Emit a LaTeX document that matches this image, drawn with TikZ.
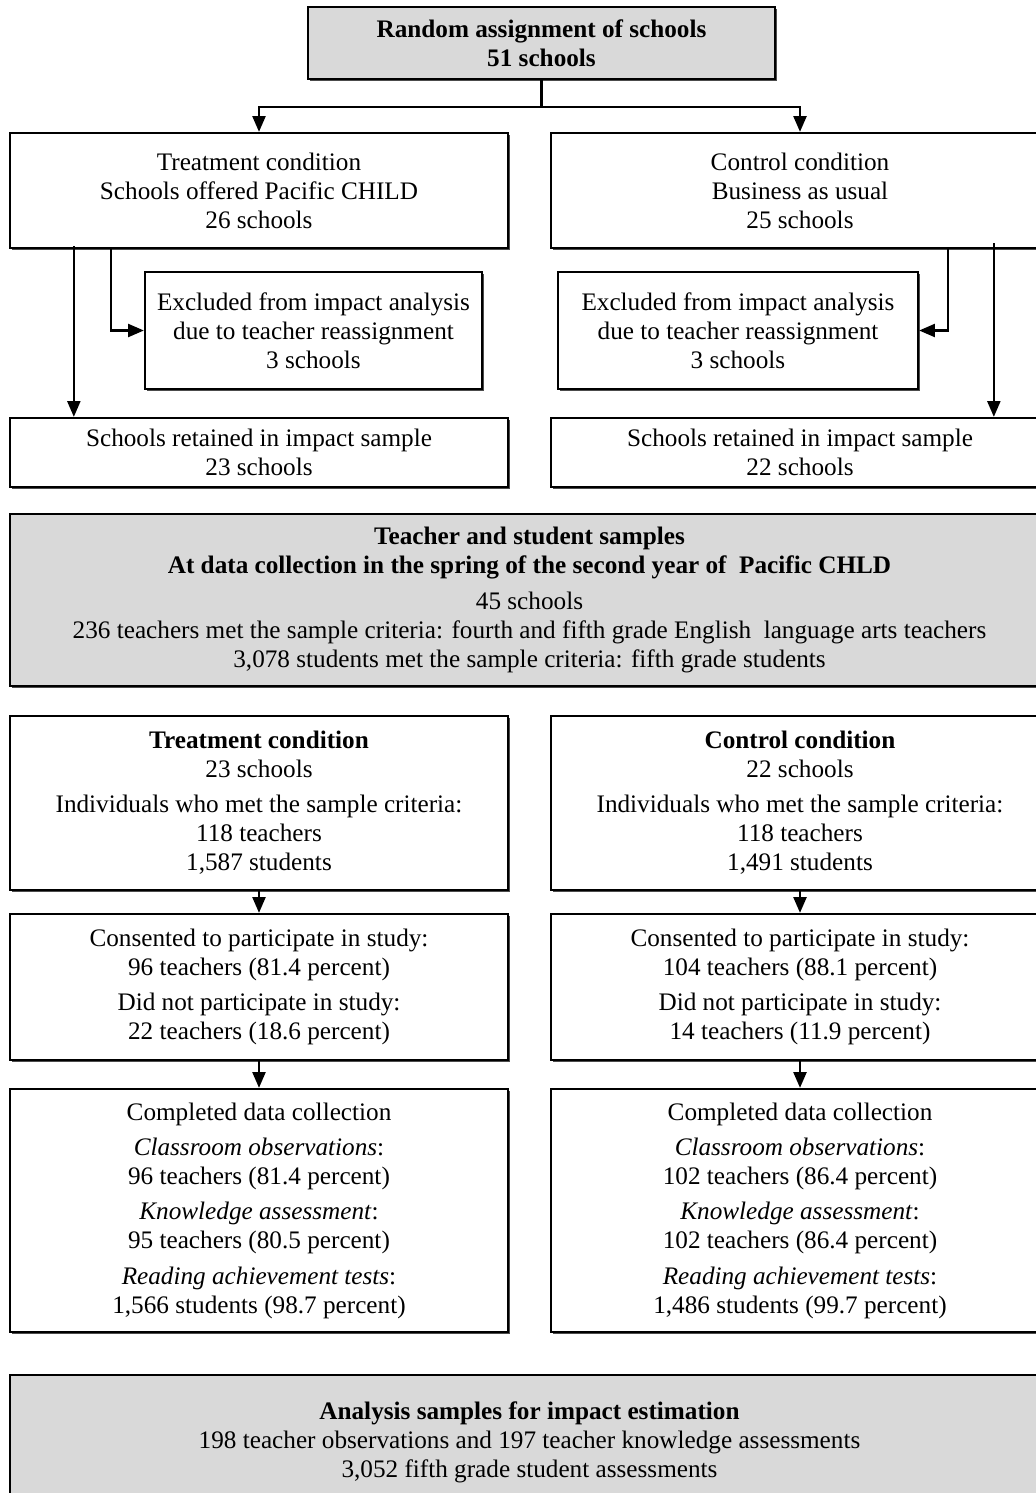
\documentclass[tikz,border=0pt]{standalone}
\usepackage{fontspec}
\setmainfont{Liberation Serif}
\usepackage{tikz}
\usetikzlibrary{arrows.meta, shadows, positioning}
\definecolor{boxgray}{HTML}{D9D9D9}
\newlength\unitpx
\setlength\unitpx{0.476pt}

\begin{document}
\begin{tikzpicture}[align=center, x=\unitpx, y=-\unitpx, font=\fontsize{12}{13.8}\selectfont]

\tikzstyle{plainbox} = [rectangle, inner sep=0pt, text centered, draw=black, line width=1.1pt, fill=white, drop shadow={shadow xshift=1.1pt, shadow yshift=-1.1pt, opacity=1, fill=black!70}]
\tikzstyle{graybox} = [plainbox, fill=boxgray]
\tikzstyle{halfbox} = [plainbox, minimum width=498\unitpx]
\tikzstyle{fullbox} = [graybox, minimum width=1039\unitpx]
\tikzstyle{arrow} = [line width=1pt, -{Triangle[length=7.5pt, width=6.2pt]}]

\useasboundingbox (0,0) rectangle (1036,1493);
\clip (0,0) rectangle (1036,1493);

% random assignment
\node (assign) [graybox, minimum width=467\unitpx, minimum height=72\unitpx] at (541.5,43) {\textbf{Random assignment of schools}\\ \textbf{51 schools}};

% first split
\node (treat) [halfbox, minimum height=115\unitpx] at (259,190.5) {Treatment condition\\ Schools offered Pacific CHILD\\ 26 schools};
\node (ctrl) [halfbox, minimum height=115\unitpx] at (800,190.5) {Control condition\\ Business as usual\\ 25 schools};
\node (exclT) [plainbox, minimum width=337\unitpx, minimum height=117\unitpx] at (313.5,330.5) {Excluded from impact analysis\\ due to teacher reassignment\\ 3 schools};
\node (exclC) [plainbox, minimum width=360\unitpx, minimum height=117\unitpx] at (738,330.5) {Excluded from impact analysis\\ due to teacher reassignment\\ 3 schools};
\node (retT) [halfbox, minimum height=69\unitpx] at (259,452.5) {Schools retained in impact sample\\ 23 schools};
\node (retC) [halfbox, minimum height=69\unitpx] at (800,452.5) {Schools retained in impact sample\\ 22 schools};

% samples
\node (samples) [fullbox, minimum height=172\unitpx] at (529.5,600) {\textbf{Teacher and student samples}\\ \textbf{At data collection in the spring of the second year of\ \ Pacific CHLD}\\[3pt] 45 schools\\ 236 teachers met the sample criteria: fourth and fifth grade English\ \ language arts teachers\\ 3,078 students met the sample criteria: fifth grade students};

% treatment column
\node (sampT) [halfbox, minimum height=174\unitpx] at (259,803) {\textbf{Treatment condition}\\ 23 schools\\[3pt] Individuals who met the sample criteria:\\ 118 teachers\\ 1,587 students};
\node (consT) [halfbox, minimum height=146\unitpx] at (259,987) {Consented to participate in study:\\ 96 teachers (81.4 percent)\\[3pt] Did not participate in study:\\ 22 teachers (18.6 percent)};
\node (compT) [halfbox, minimum height=243\unitpx] at (259,1210.5) {Completed data collection\\[3pt] \textit{Classroom observations}:\\ 96 teachers (81.4 percent)\\[3pt] \textit{Knowledge assessment}:\\ 95 teachers (80.5 percent)\\[3pt] \textit{Reading achievement tests}:\\ 1,566 students (98.7 percent)};

% control column
\node (sampC) [halfbox, minimum height=174\unitpx] at (800,803) {\textbf{Control condition}\\ 22 schools\\[3pt] Individuals who met the sample criteria:\\ 118 teachers\\ 1,491 students};
\node (consC) [halfbox, minimum height=146\unitpx] at (800,987) {Consented to participate in study:\\ 104 teachers (88.1 percent)\\[3pt] Did not participate in study:\\ 14 teachers (11.9 percent)};
\node (compC) [halfbox, minimum height=243\unitpx] at (800,1210.5) {Completed data collection\\[3pt] \textit{Classroom observations}:\\ 102 teachers (86.4 percent)\\[3pt] \textit{Knowledge assessment}:\\ 102 teachers (86.4 percent)\\[3pt] \textit{Reading achievement tests}:\\ 1,486 students (99.7 percent)};

% analysis
\node (analysis) [fullbox, minimum height=135\unitpx] at (529.5,1442.5) {\textbf{Analysis samples for impact estimation}\\ 198 teacher observations and 197 teacher knowledge assessments\\ 3,052 fifth grade student assessments};

\coordinate (split) at ([yshift=-27\unitpx]assign.south);
\draw [line width=1.4pt] (assign) -- (split);
\draw [arrow] (split) -| (treat.north);
\draw [arrow] (split) -| (ctrl.north);
\draw [arrow] ([xshift=65\unitpx, yshift=3\unitpx]treat.south west) -- ([xshift=65\unitpx]retT.north west);
\draw [arrow] ([xshift=102\unitpx]treat.south west) |- (exclT.west);
\draw [arrow] ([xshift=398\unitpx]ctrl.south west) |- (exclC.east);
\draw [arrow] ([xshift=444\unitpx, yshift=6\unitpx]ctrl.south west) -- ([xshift=444\unitpx]retC.north west);
\draw [arrow] (sampT) -- (consT);
\draw [arrow] (consT) -- (compT);
\draw [arrow] (sampC) -- (consC);
\draw [arrow] (consC) -- (compC);
\end{tikzpicture}
\end{document}
